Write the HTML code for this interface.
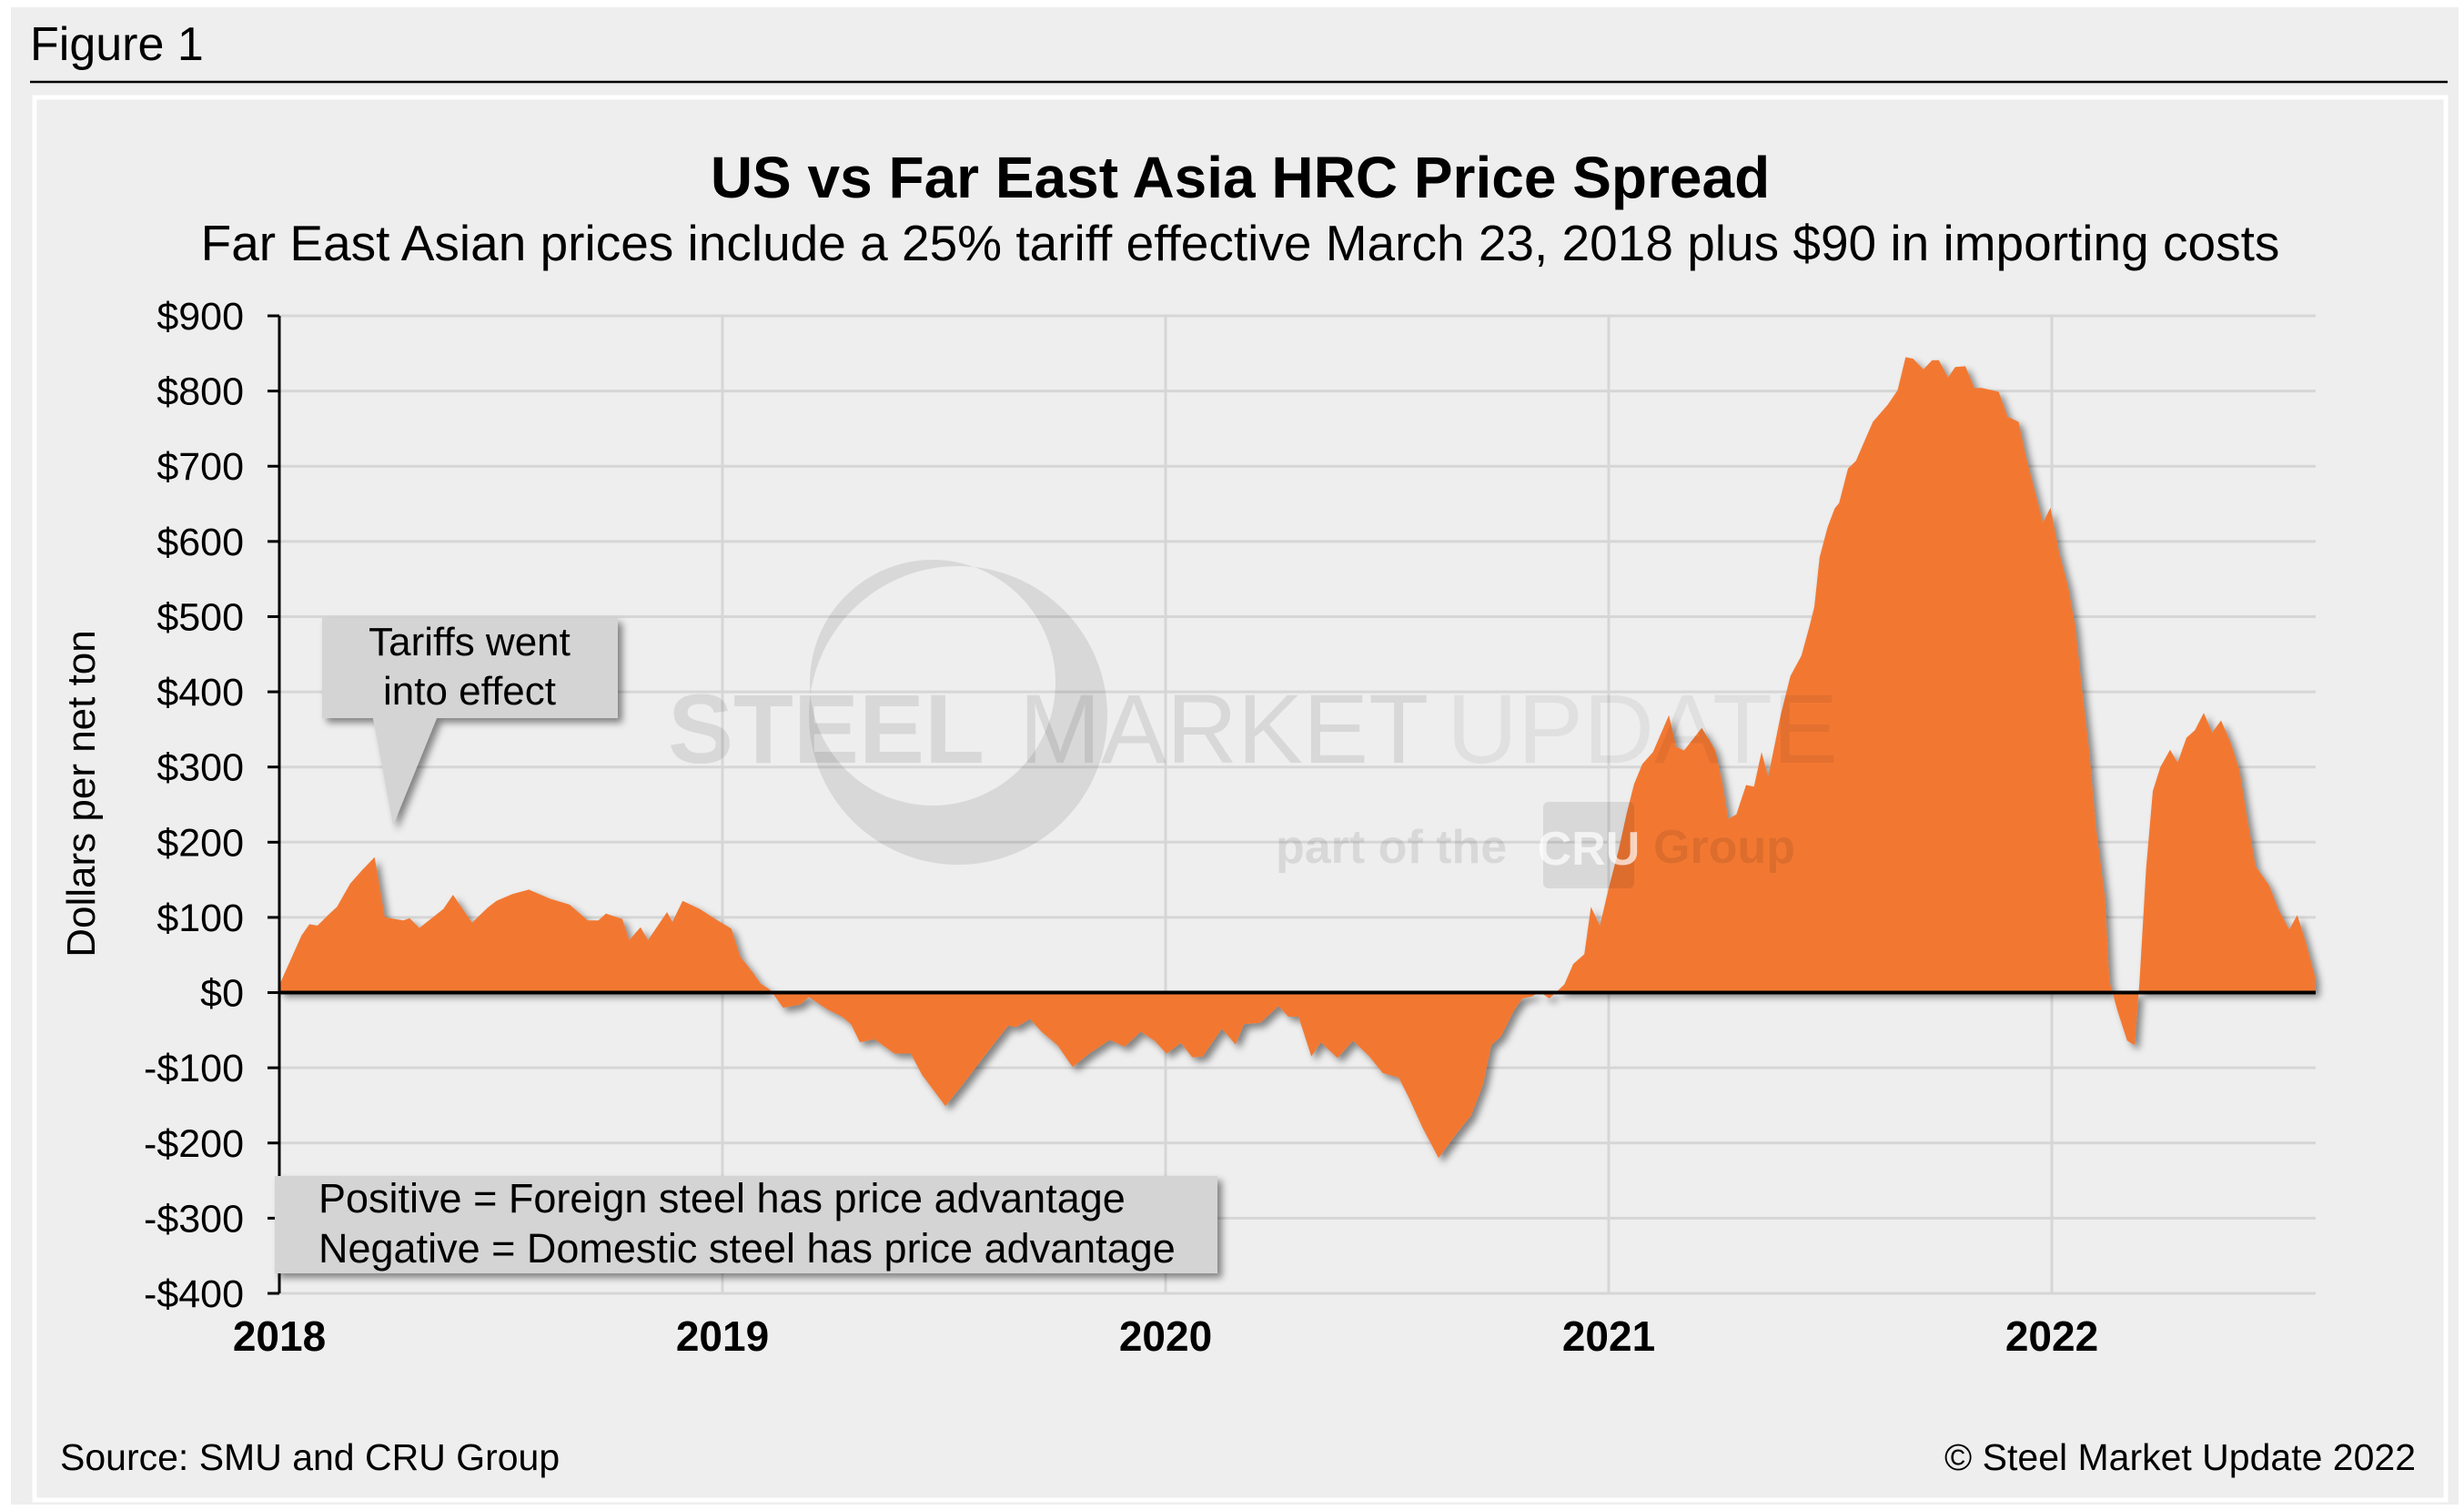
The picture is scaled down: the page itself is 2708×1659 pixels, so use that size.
<!DOCTYPE html>
<html><head><meta charset="utf-8">
<style>
html,body{margin:0;padding:0;background:#fff;}
svg{display:block;font-family:"Liberation Sans",Arial,sans-serif;}
</style></head>
<body>
<svg id="chart" width="2708" height="1659" viewBox="0 0 2708 1659" xmlns="http://www.w3.org/2000/svg">
<defs>
<filter id="sh" x="-10%" y="-10%" width="130%" height="130%">
<feDropShadow dx="5" dy="5" stdDeviation="4" flood-color="#000" flood-opacity="0.45"/>
</filter>
</defs>
<rect x="0" y="0" width="2708" height="1659" fill="#ffffff"/>
<rect x="12" y="8" width="2690" height="1645" fill="#eeeeee"/>
<text x="33" y="66" font-size="52" fill="#000">Figure 1</text>
<line x1="33" y1="90" x2="2690" y2="90" stroke="#000" stroke-width="2.5"/>
<rect x="38" y="107" width="2650" height="1541" fill="#eeeeee" stroke="#ffffff" stroke-width="5"/>
<text x="1363" y="217" font-size="64" font-weight="bold" text-anchor="middle">US vs Far East Asia HRC Price Spread</text>
<text x="1363" y="286" font-size="55" text-anchor="middle">Far East Asian prices include a 25% tariff effective March 23, 2018 plus $90 in importing costs</text>
<g id="grid"></g>
<g id="area"></g>
<g id="axes"></g>
<g fill="rgba(0,0,0,0.09)">
<path fill-rule="evenodd" d="M 889 786 A 164 164 0 1 0 1217 786 A 164 164 0 1 0 889 786 Z M 890 750 A 135 135 0 1 0 1160 750 A 135 135 0 1 0 890 750 Z" />
<text x="734" y="838" font-size="108" font-weight="bold">STEEL</text>
<text x="1120" y="838" font-size="108">MARKET</text>
<text x="1590" y="838" font-size="108" fill="rgba(0,0,0,0.06)">UPDATE</text>
<text x="1402" y="948" font-size="52" font-weight="bold">part of the</text>
<rect x="1696" y="881" width="100" height="95" rx="6"/>
<text x="1746" y="950" font-size="52" font-weight="bold" text-anchor="middle" fill="rgba(255,255,255,0.7)">CRU</text>
<text x="1817" y="948" font-size="52" font-weight="bold">Group</text>
</g>
<g filter="url(#sh)">
<path d="M354 679 H679 V789 H480 L432 907 L410 789 H354 Z" fill="#d4d4d4"/>
</g>
<text x="516" y="720" font-size="44" text-anchor="middle"><tspan x="516">Tariffs went</tspan><tspan x="516" dy="54">into effect</tspan></text>
<rect x="302" y="1292" width="1036" height="107" fill="#d4d4d4" filter="url(#sh)"/>
<text x="350" y="1332" font-size="45">Positive = Foreign steel has price advantage</text>
<text x="350" y="1387" font-size="45">Negative = Domestic steel has price advantage</text>
<text transform="translate(104,872) rotate(-90)" font-size="44" text-anchor="middle">Dollars per net ton</text>
<text x="66" y="1615" font-size="41">Source: SMU and CRU Group</text>
<text x="2655" y="1615" font-size="41" text-anchor="end">© Steel Market Update 2022</text>
<script>
const yTicks = [900,800,700,600,500,400,300,200,100,0,-100,-200,-300,-400];
const yearTicks = [2018,2019,2020,2021,2022];
const times = [0,0.05,0.068,0.086,0.11,0.13,0.16,0.187,0.215,0.238,0.28,0.294,0.316,0.37,0.392,0.435,0.47,0.49,0.526,0.563,0.61,0.655,0.696,0.72,0.737,0.774,0.79,0.815,0.832,0.875,0.887,0.91,0.949,0.986,1.02,1.04,1.067,1.086,1.107,1.137,1.175,1.195,1.236,1.27,1.29,1.31,1.343,1.388,1.425,1.45,1.48,1.503,1.544,1.585,1.618,1.645,1.663,1.694,1.72,1.756,1.79,1.828,1.874,1.908,1.944,1.975,2.002,2.035,2.06,2.084,2.127,2.158,2.177,2.214,2.255,2.277,2.3,2.329,2.35,2.388,2.423,2.46,2.49,2.526,2.55,2.58,2.616,2.66,2.69,2.717,2.735,2.757,2.786,2.805,2.827,2.845,2.866,2.9,2.92,2.945,2.96,2.98,3.0,3.023,3.04,3.057,3.076,3.1,3.136,3.152,3.17,3.21,3.24,3.255,3.27,3.288,3.31,3.328,3.345,3.36,3.388,3.41,3.435,3.453,3.464,3.476,3.494,3.51,3.52,3.54,3.558,3.596,3.63,3.652,3.67,3.687,3.71,3.73,3.745,3.766,3.782,3.805,3.825,3.842,3.88,3.9,3.925,3.94,3.96,3.98,3.997,4.016,4.036,4.053,4.066,4.084,4.1,4.12,4.13,4.148,4.17,4.187,4.198,4.213,4.228,4.245,4.267,4.284,4.304,4.323,4.343,4.362,4.382,4.403,4.423,4.441,4.46,4.49,4.512,4.536,4.554,4.573,4.594];
const spread = [10,76,91,89,103,114,145,163,180,100,96,99,86,111,130,93,113,122,131,137,125,117,96,96,105,98,70,87,70,107,94,122,111,97,85,48,28,12,4,-20,-16,-6,-22,-32,-42,-66,-62,-81,-81,-109,-133,-151,-121,-89,-64,-44,-46,-35,-52,-70,-99,-81,-63,-72,-52,-64,-81,-67,-86,-85,-48,-69,-42,-40,-18,-32,-32,-85,-66,-87,-64,-85,-107,-113,-141,-180,-220,-185,-163,-121,-70,-58,-24,-8,-5,1,-8,11,38,51,114,89,139,191,237,277,304,320,369,327,322,352,323,283,231,237,276,274,320,287,369,421,448,487,513,579,619,644,651,697,707,759,782,801,845,843,829,841,841,818,832,833,804,804,799,766,759,717,671,625,645,586,542,487,415,323,218,126,15,-24,-64,-70,15,166,268,300,323,306,339,349,372,346,362,333,297,231,168,143,110,84,103,67,21];

const NS = "http://www.w3.org/2000/svg";
const X0 = 307, X1 = 2545, Y900 = 347, YM400 = 1421;
const pxPerYear = 487;
function xs(t){ return X0 + t*pxPerYear; }
function ys(v){ return Y900 + (900 - v)*(YM400 - Y900)/1300; }
function mk(tag, attrs, parent){ const e=document.createElementNS(NS,tag); for(const k in attrs) e.setAttribute(k,attrs[k]); parent.appendChild(e); return e; }

const grid = document.getElementById('grid');
const axes = document.getElementById('axes');
yTicks.forEach(v=>{
  if(v!==0){
    const gl = mk('line',{x1:X0,x2:X1,y1:ys(v),y2:ys(v),stroke:'#d6d6d6','stroke-width':3},grid);
    
    
  }
  const tk = mk('line',{x1:X0-13,x2:X0,y1:ys(v),y2:ys(v),stroke:'#000','stroke-width':3},axes);
  
  
  const lb = mk('text',{x:268,y:ys(v)+15,'font-size':43,'text-anchor':'end'},axes);
  lb.textContent = (v<0?'-$':'$')+Math.abs(v);
  
  
});
yearTicks.forEach((yr,i)=>{
  const x = xs(yr-2018);
  if(i>0){
    const gl = mk('line',{x1:x,x2:x,y1:Y900,y2:YM400,stroke:'#d6d6d6','stroke-width':3},grid);
    
    
  }
  const lb = mk('text',{x:x,y:1484,'font-size':46,'font-weight':'bold','text-anchor':'middle'},axes);
  lb.textContent = yr;
  
  
});
const yAxis = mk('line',{x1:X0,x2:X0,y1:Y900,y2:YM400,stroke:'#000','stroke-width':3},axes);



const area = document.getElementById('area');
let d = 'M'+xs(times[0])+' '+ys(0);
times.forEach((t,i)=>{ d += ' L'+xs(t).toFixed(1)+' '+ys(spread[i]).toFixed(1); });
d += ' L'+xs(times[times.length-1]).toFixed(1)+' '+ys(0)+' Z';
const p = mk('path',{d:d,fill:'#f27830',filter:'url(#sh)'},area);


const zero = mk('line',{x1:X0,x2:X1,y1:ys(0),y2:ys(0),stroke:'#000','stroke-width':4},area);


</script>
</svg>
</body></html>
